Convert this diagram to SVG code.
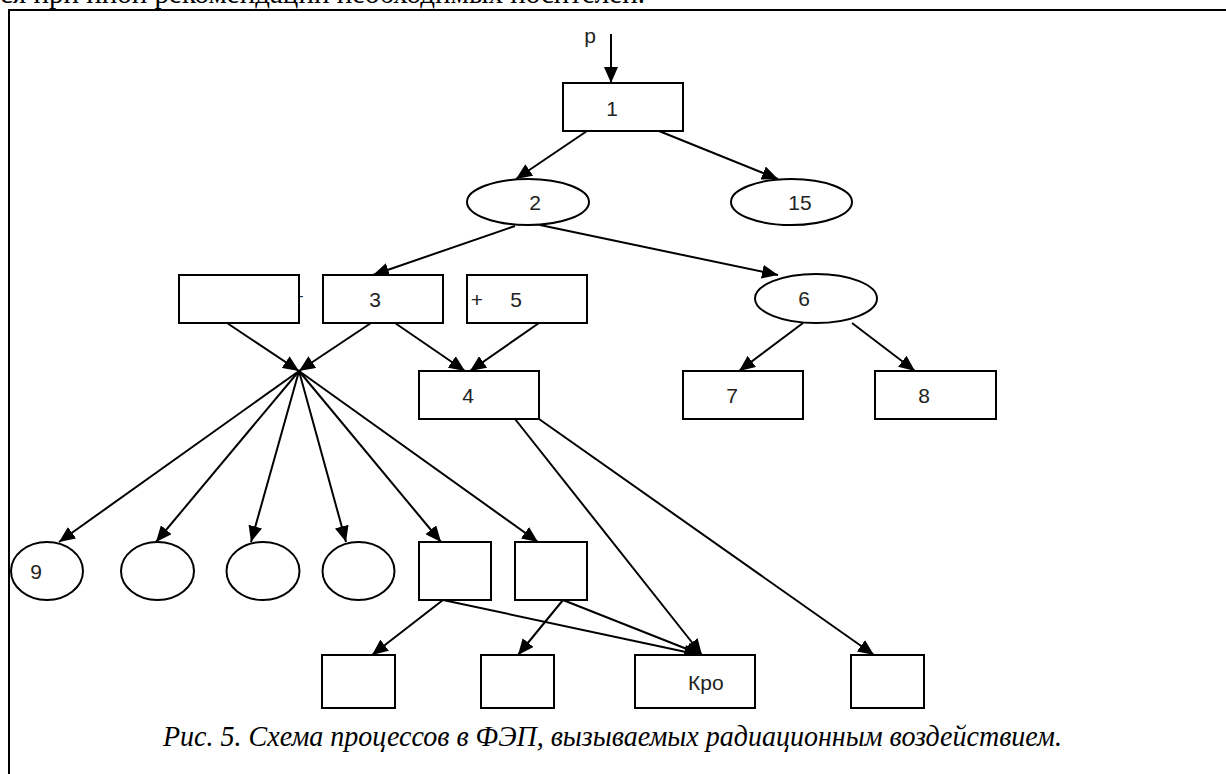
<svg xmlns="http://www.w3.org/2000/svg" width="1226" height="774" viewBox="0 0 1226 774">
<style>
.n{fill:#fff;stroke:#000;stroke-width:2}
.t{font-family:"Liberation Sans",Arial,sans-serif;font-size:21px;fill:#222;text-anchor:middle;dominant-baseline:central}
.c line{stroke:#000;stroke-width:2;marker-end:url(#ah)}
.cap{font-family:"Liberation Serif","Times New Roman",serif;font-style:italic;font-size:29px;fill:#000}
</style>
<defs>
<marker id="ah" markerUnits="userSpaceOnUse" markerWidth="16" markerHeight="14" refX="16" refY="7" orient="auto">
<path d="M0,0 L16,7 L0,14 z" fill="#000"/>
</marker>
</defs>
<rect width="1226" height="774" fill="#fff"/>
<text class="cap" x="0" y="3" style="font-style:normal">ся при иной рекомендации необходимых носителей.</text>
<g id="frame" fill="none" stroke="#000" stroke-width="2">
<line x1="9" y1="10" x2="9" y2="774"/>
<line x1="8" y1="10" x2="1226" y2="10"/>
</g>
<g class="c" id="connectors">
<line x1="611" y1="34" x2="611" y2="83"/>
<line x1="587" y1="131" x2="516" y2="179"/>
<line x1="659" y1="131" x2="778" y2="179"/>
<line x1="515" y1="226" x2="373" y2="275"/>
<line x1="540" y1="225" x2="778" y2="275"/>
<line x1="227" y1="323" x2="299" y2="371"/>
<line x1="371" y1="323" x2="299" y2="371"/>
<line x1="395" y1="323" x2="465" y2="371"/>
<line x1="539" y1="323" x2="470" y2="371"/>
<line x1="803" y1="323" x2="739" y2="371"/>
<line x1="852" y1="323" x2="915" y2="371"/>
<line x1="299" y1="371" x2="59" y2="542"/>
<line x1="299" y1="371" x2="156" y2="542"/>
<line x1="299" y1="371" x2="251" y2="542"/>
<line x1="299" y1="371" x2="346" y2="542"/>
<line x1="299" y1="371" x2="441" y2="542"/>
<line x1="299" y1="371" x2="538" y2="542"/>
<line x1="443" y1="600" x2="372" y2="655"/>
<line x1="443" y1="600" x2="700" y2="655"/>
<line x1="563" y1="600" x2="518" y2="655"/>
<line x1="563" y1="600" x2="702" y2="655"/>
<line x1="515" y1="419" x2="702" y2="655"/>
<line x1="539" y1="419" x2="874" y2="655"/>
</g>
<text class="t" x="590" y="35">р</text>
<g id="n1"><rect class="n" x="563" y="83" width="120" height="48"/><text class="t" x="612" y="108">1</text></g>
<g id="n2"><ellipse class="n" cx="528" cy="202" rx="61" ry="23"/><text class="t" x="535" y="202">2</text></g>
<g id="n15"><ellipse class="n" cx="791.5" cy="202" rx="60.5" ry="23"/><text class="t" x="800" y="202">15</text></g>
<g id="nblank"><rect class="n" x="179" y="275" width="120" height="48"/><text class="t" x="301" y="296" style="font-size:14px">-</text></g>
<g id="n3"><rect class="n" x="323" y="275" width="120" height="48"/><text class="t" x="375" y="299">3</text></g>
<g id="n5"><rect class="n" x="467" y="275" width="120" height="48"/><text class="t" x="477" y="299">+</text><text class="t" x="516" y="299">5</text></g>
<g id="n6"><ellipse class="n" cx="816" cy="298.5" rx="61" ry="24.5"/><text class="t" x="804" y="298">6</text></g>
<g id="n4"><rect class="n" x="419" y="371" width="120" height="48"/><text class="t" x="468" y="395">4</text></g>
<g id="n7"><rect class="n" x="683" y="371" width="120" height="48"/><text class="t" x="732" y="395">7</text></g>
<g id="n8"><rect class="n" x="875" y="371" width="121" height="48"/><text class="t" x="924" y="395">8</text></g>
<g id="n9"><ellipse class="n" cx="47" cy="571" rx="36" ry="29"/><text class="t" x="36" y="571">9</text></g>
<g id="n10"><ellipse class="n" cx="157.5" cy="571" rx="36.5" ry="29"/></g>
<g id="n11"><ellipse class="n" cx="263" cy="571" rx="36.5" ry="29"/></g>
<g id="n12"><ellipse class="n" cx="358.5" cy="571" rx="36" ry="29"/></g>
<g id="n13"><rect class="n" x="419" y="542" width="72" height="58"/></g>
<g id="n14"><rect class="n" x="515" y="542" width="72" height="58"/></g>
<g id="n16"><rect class="n" x="322" y="655" width="73" height="53"/></g>
<g id="n17"><rect class="n" x="481" y="655" width="73" height="53"/></g>
<g id="nkro"><rect class="n" x="635" y="655" width="120" height="53"/><text class="t" x="688" y="682" style="text-anchor:start">Кро</text></g>
<g id="n18"><rect class="n" x="851" y="655" width="73" height="53"/></g>
<text class="cap" x="163" y="746" textLength="899" lengthAdjust="spacingAndGlyphs">Рис. 5. Схема процессов в ФЭП, вызываемых радиационным воздействием.</text>
</svg>
